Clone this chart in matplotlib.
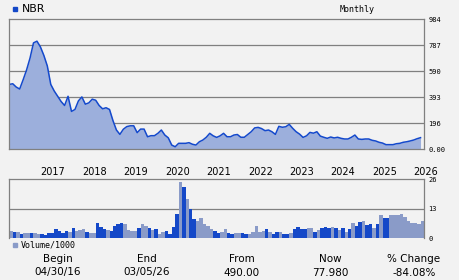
#!/usr/bin/env python3
"""Monthly price and volume chart for NBR (04/30/16 - 03/05/26)."""

import matplotlib
matplotlib.use("Agg")
import matplotlib.pyplot as plt
import numpy as np

# monthly closes, Apr 2016 .. Mar 2026
price = [490, 495, 470, 455, 525, 600, 690, 805, 818, 775,
         710, 630, 490, 440, 400, 360, 330, 400, 285, 300,
         365, 395, 340, 350, 378, 370, 330, 305, 313, 300,
         215, 144, 111, 150, 170, 176, 176, 124, 151, 151,
         93, 101, 101, 119, 144, 106, 85, 30, 17, 43,
         43, 43, 48, 36, 30, 55, 68, 89, 119, 100,
         88, 100, 119, 93, 93, 106, 110, 89, 89, 110,
         131, 160, 164, 155, 139, 144, 131, 111, 172, 165,
         169, 187, 157, 131, 113, 88, 100, 126, 120, 131,
         98, 89, 81, 91, 84, 89, 81, 76, 76, 89,
         106, 76, 73, 76, 76, 66, 61, 51, 45, 33,
         33, 33, 40, 43, 51, 55, 61, 68, 78, 86]

# monthly volume / 1000
volume = [3.2, 2.8, 2.8, 1.9, 2.3, 2.3, 2.3, 2.3, 1.9, 1.9,
          1.5, 2.3, 2.3, 4.1, 3.2, 2.3, 3.2, 2.8, 4.6, 3.2,
          3.7, 4.1, 2.8, 2.3, 2.3, 6.8, 5.0, 4.1, 3.7, 3.2,
          5.4, 6.3, 6.8, 6.3, 3.7, 3.2, 3.2, 4.6, 6.3, 5.4,
          4.6, 3.7, 4.1, 1.9, 2.8, 3.2, 1.9, 5.0, 10.7, 24.8,
          22.6, 17.3, 12.9, 8.5, 7.6, 9.0, 6.3, 5.4, 4.1, 3.2,
          2.3, 2.8, 4.1, 2.3, 1.9, 2.3, 2.3, 2.3, 1.9, 1.9,
          2.8, 5.4, 2.8, 3.2, 4.1, 2.8, 1.9, 2.8, 2.8, 1.9,
          1.9, 2.3, 4.1, 5.0, 4.1, 4.1, 4.6, 4.6, 2.8, 3.7,
          4.6, 5.0, 4.6, 5.0, 4.6, 3.7, 4.6, 2.8, 4.1, 6.8,
          5.4, 7.2, 7.6, 5.9, 6.3, 4.6, 6.3, 10.3, 9.0, 9.0,
          10.3, 10.3, 10.3, 10.7, 9.4, 7.6, 6.8, 6.8, 6.3, 7.6]

# D = dark bar, L = light bar
vol_shade = ("LDLDLLDLLD" "DDDDDDDLDL" "LLDLLDDDLD" "DDDLLLLDLL"
             "DLDLLDDDDL" "DLDDLLLLLD" "DLLDDLLDDL" "LLLLDLDDLD"
             "DLDDDDLLDL" "DDDLDLDLDL" "DDLDDLDLDD" "LLLLLLLLLL")

years = [2017, 2018, 2019, 2020, 2021, 2022, 2023, 2024, 2025, 2026]
price_ticks = [0, 196, 393, 590, 787, 984]
price_tick_labels = ["0.00", "196", "393", "590", "787", "984"]
vol_ticks = [0, 13, 26]

summary_heads = ["Begin", "End", "From", "Now", "% Change"]
summary_vals = ["04/30/16", "03/05/26", "490.00", "77.980", "-84.08%"]
summary_x = [58, 147, 242, 330, 414]

BG = "#f2f2f2"
GRID = "#808080"
LINE = "#1449cc"
FILL = "#9cafdc"
DARK = "#1448c8"
LIGHT = "#8a9bc8"
W, H = 460, 280


def style_axes(ax):
    ax.set_facecolor(BG)
    for side in ax.spines.values():
        side.set_color(GRID)
        side.set_linewidth(0.9)
    ax.yaxis.tick_right()
    ax.tick_params(axis="y", length=0, pad=3, labelsize=5,
                   labelfontfamily="DejaVu Sans Mono")


fig = plt.figure(figsize=(W / 100, H / 100), dpi=100, facecolor=BG)

# price panel
ax = fig.add_axes([9.3 / W, 1 - 149 / H, (424 - 9.3) / W, (149 - 19.3) / H])
style_axes(ax)
x = np.arange(len(price))
ax.fill_between(x, price, 0, color=FILL, lw=0)
ax.plot(x, price, color=LINE, lw=1.1)
ax.set_xlim(0, 120)
ax.set_ylim(0, 984)
ax.set_yticks(price_ticks, price_tick_labels)
for t in price_ticks[1:-1]:
    ax.axhline(t, color=GRID, lw=0.9, zorder=0)
year_pos = [9 + 12 * (y - 2017) for y in years]
ax.set_xticks(year_pos, [str(y) for y in years])
ax.tick_params(axis="x", length=0, pad=13, labelsize=7)
for lbl in ax.get_xticklabels():
    lbl.set_horizontalalignment("left")

# volume panel
axv = fig.add_axes([9.3 / W, 1 - 238.3 / H, (424 - 9.3) / W, (238.3 - 179.3) / H])
style_axes(axv)
axv.spines["bottom"].set_visible(False)
colors = [DARK if s == "D" else LIGHT for s in vol_shade]
axv.bar(np.arange(len(volume)) + 0.5, volume, width=1.0, color=colors, lw=0)
axv.set_xlim(0, 120)
axv.set_ylim(0, 26)
axv.set_yticks(vol_ticks, [str(v) for v in vol_ticks])
axv.axhline(13, color=GRID, lw=0.9, zorder=0)
axv.set_xticks([])

# header
fig.patches.append(plt.Rectangle((13 / W, 1 - 11.3 / H), 4 / W, 4 / H,
                                 transform=fig.transFigure, color=DARK))
fig.text(22 / W, 1 - 9 / H, "NBR", fontsize=7.8, va="center", ha="left")
fig.text(340 / W, 1 - 9 / H, "Monthly", fontsize=6, va="center", ha="left",
         fontfamily="DejaVu Sans Mono")

# volume legend
fig.patches.append(plt.Rectangle((13.3 / W, 1 - 247 / H), 4 / W, 4 / H,
                                 transform=fig.transFigure, color=LIGHT))
fig.text(20.5 / W, 1 - 245 / H, "Volume/1000", fontsize=6, va="center",
         ha="left", fontfamily="DejaVu Sans Mono")

# summary row
for xs, head, val in zip(summary_x, summary_heads, summary_vals):
    fig.text(xs / W, 1 - 259 / H, head, fontsize=7.5, ha="center", va="center")
    fig.text(xs / W, 1 - 272.5 / H, val, fontsize=7.5, ha="center", va="center")

fig.savefig("out.png", dpi=100, facecolor=BG)
